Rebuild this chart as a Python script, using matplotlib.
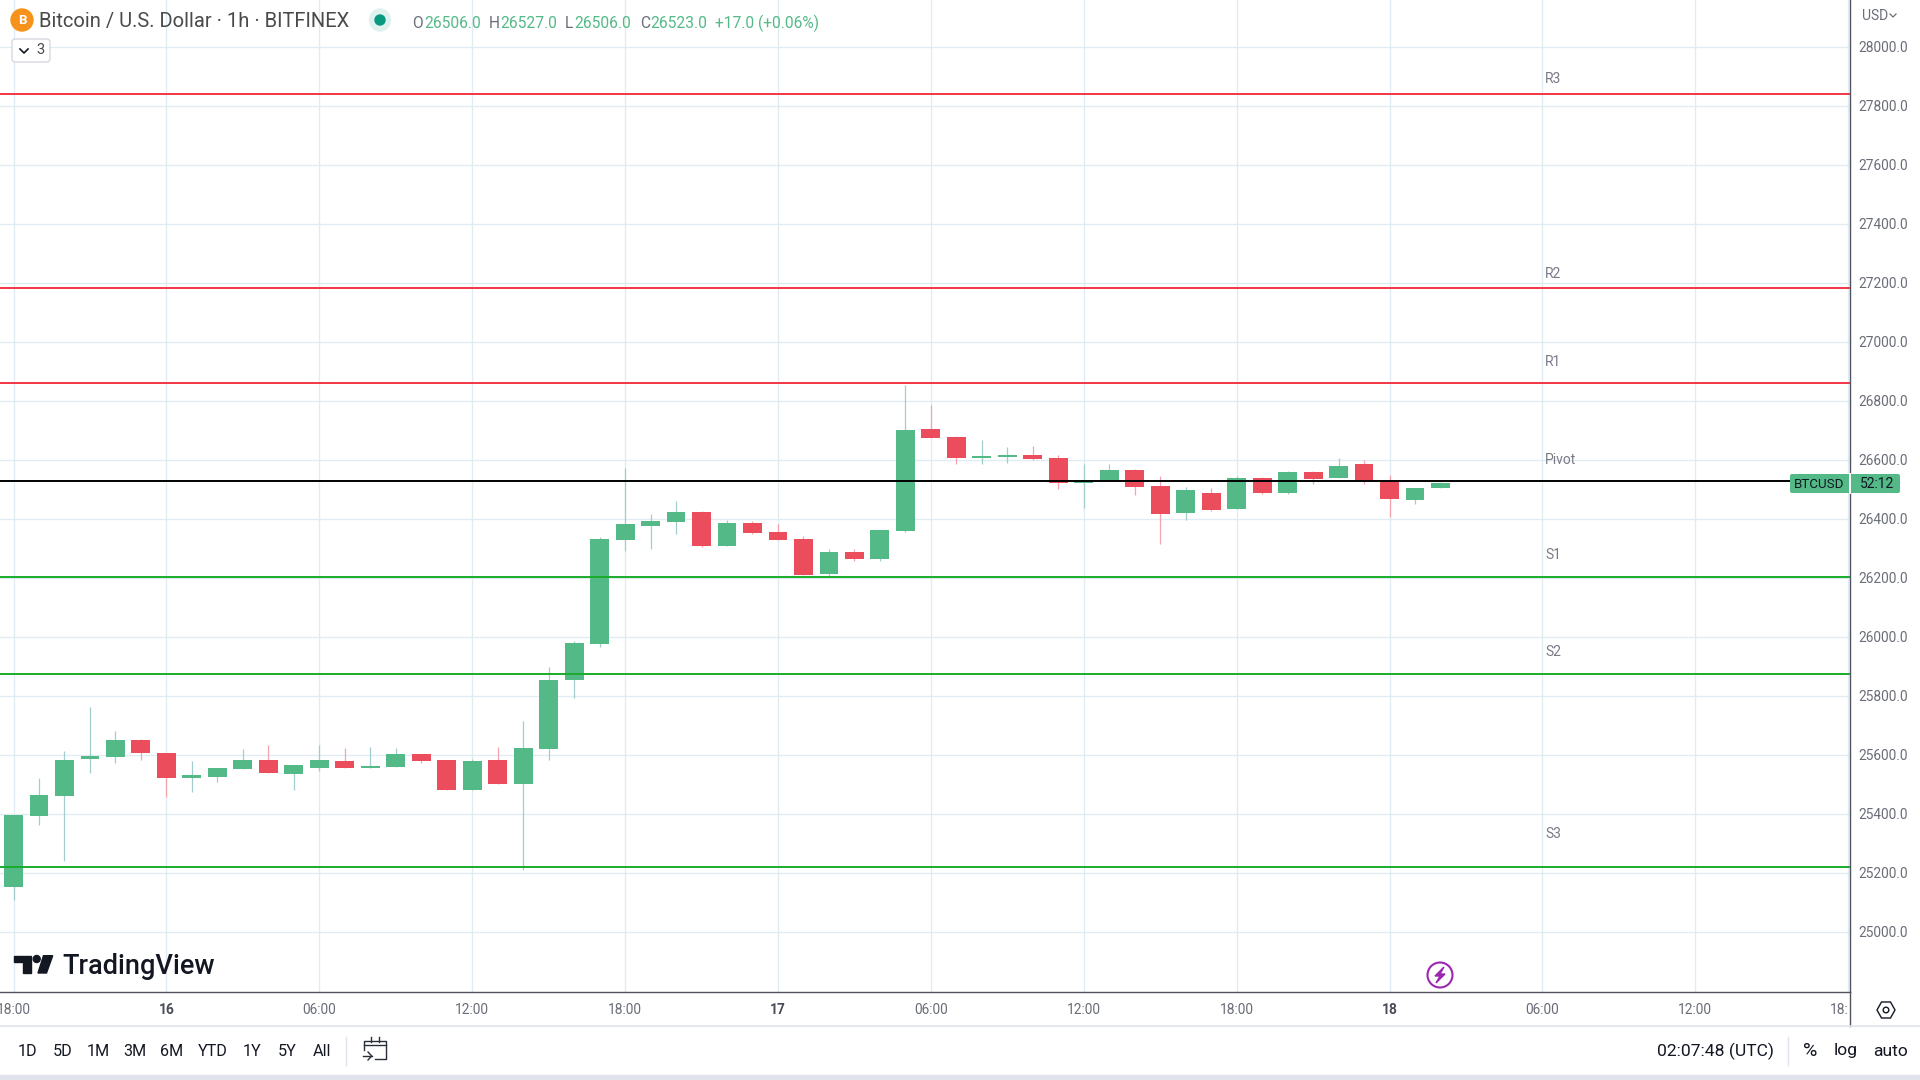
import matplotlib
matplotlib.use('Agg')
import matplotlib.pyplot as plt
import numpy as np
from matplotlib.patches import Circle, Ellipse, FancyBboxPatch, Polygon, Rectangle
from matplotlib.transforms import ScaledTranslation

plt.rcParams['font.family'] = 'Roboto'

# candles (1h, starting 15th 18:00)
opens = [25154, 25394, 25462, 25588, 25594, 25652, 25608, 25523, 25527, 25554,
         25584, 25537, 25557, 25581, 25557, 25560, 25604, 25584, 25482, 25584,
         25503, 25621, 25855, 25977, 26330, 26377, 26391, 26425, 26310, 26387,
         26357, 26333, 26214, 26289, 26265, 26360, 26706, 26679, 26608, 26611,
         26618, 26608, 26523, 26533, 26567, 26513, 26421, 26489, 26435, 26540,
         26489, 26560, 26540, 26587, 26526, 26465, 26506]
highs = [25398, 25523, 25615, 25764, 25682, 25655, 25608, 25581, 25557, 25621,
         25635, 25567, 25635, 25625, 25628, 25625, 25604, 25584, 25587, 25628,
         25716, 25899, 25987, 26340, 26575, 26418, 26462, 26428, 26398, 26394,
         26384, 26343, 26299, 26299, 26364, 26855, 26787, 26682, 26669, 26645,
         26648, 26618, 26587, 26587, 26570, 26547, 26510, 26506, 26547, 26543,
         26564, 26564, 26608, 26601, 26550, 26506, 26527]
lows = [25110, 25364, 25242, 25540, 25574, 25584, 25459, 25476, 25510, 25554,
        25540, 25482, 25547, 25557, 25557, 25560, 25574, 25482, 25482, 25503,
        25211, 25584, 25794, 25967, 26292, 26299, 26350, 26306, 26310, 26350,
        26330, 26211, 26205, 26259, 26259, 26357, 26676, 26587, 26587, 26591,
        26601, 26503, 26438, 26533, 26482, 26316, 26398, 26428, 26435, 26486,
        26486, 26520, 26540, 26520, 26408, 26452, 26506]
closes = [25398, 25465, 25584, 25598, 25652, 25608, 25523, 25533, 25557, 25584,
          25540, 25567, 25584, 25557, 25564, 25604, 25581, 25482, 25581, 25503,
          25625, 25855, 25981, 26333, 26384, 26394, 26425, 26310, 26387, 26354,
          26330, 26211, 26289, 26265, 26364, 26703, 26676, 26608, 26615, 26618,
          26604, 26523, 26530, 26567, 26510, 26418, 26499, 26432, 26540, 26489,
          26560, 26537, 26581, 26533, 26469, 26506, 26523]

# pivot levels
level_names = ['R3', 'R2', 'R1', 'Pivot', 'S1', 'S2', 'S3']
level_prices = [27842, 27185, 26862, 26531, 26205, 25877, 25221]
level_label_prices = [27891, 27233, 26932, 26600, 26279, 25949, 25332]
level_colors = ['#f23645', '#f23645', '#f23645', '#000000', '#1aac2c', '#1aac2c', '#1aac2c']

price_ticks = np.arange(25000, 28001, 200)
time_ticks = np.arange(0, 73, 6)
time_labels = ['18:00', '16', '06:00', '12:00', '18:00', '17', '06:00', '12:00',
               '18:00', '18', '06:00', '12:00', '18:']

GREEN = '#53b987'
RED = '#eb4d5c'
GREY = '#6a6d78'
DARK = '#131722'
LINE = '#50535e'

W, H = 1920, 1080
fig = plt.figure(figsize=(W / 100, H / 100), dpi=100, facecolor='white')

# main chart, 1850 x 992 px
ax = fig.add_axes([0, 1 - 992.3 / H, 1850 / W, 992.3 / H])
ax.set_xlim(-0.53, 72.07)
ax.set_ylim(24796.6, 28160.3)

x = np.arange(len(opens))
o = np.array(opens)
c = np.array(closes)
up = c >= o

ax.vlines(x[up], np.array(lows)[up], np.array(highs)[up], color='#a3cccc', lw=0.9, zorder=2)
ax.vlines(x[~up], np.array(lows)[~up], np.array(highs)[~up], color='#f5a3ad', lw=0.9, zorder=2)
ax.bar(x[up], (c - o)[up], bottom=o[up], width=0.74, color=GREEN, zorder=3)
ax.bar(x[~up], (o - c)[~up], bottom=c[~up], width=0.74, color=RED, zorder=3)

for name, price, label_price, col in zip(level_names, level_prices, level_label_prices, level_colors):
    ax.axhline(price, color=col, lw=1.4, zorder=4)
    ax.text(60.1, label_price, name, color='#787b86', fontsize=10, va='center', ha='left')

ax.set_yticks(price_ticks)
ax.set_yticklabels(['%.1f' % p for p in price_ticks])
ax.set_xticks(time_ticks)
ax.set_xticklabels(time_labels)
ax.yaxis.tick_right()
ax.tick_params(axis='y', length=0, pad=6.2, labelsize=9.9, labelcolor=GREY)
ax.tick_params(axis='x', length=0, pad=8, labelsize=9.9, labelcolor=GREY)
for lab in ax.get_xticklabels():
    if lab.get_text() in ('16', '17', '18'):
        lab.set_fontweight('bold')
        lab.set_color('#4a4d58')
ax.get_xticklabels()[-1].set_ha('right')
# price labels sit a pixel higher than centred
nudge = ScaledTranslation(0, 1 / 100, fig.dpi_scale_trans)
for lab in ax.get_yticklabels():
    lab.set_transform(lab.get_transform() + nudge)
ax.grid(True, color='#e1ecf2', lw=1.0, zorder=0)
ax.set_axisbelow(True)
for side in ('top', 'left'):
    ax.spines[side].set_visible(False)
for side in ('right', 'bottom'):
    ax.spines[side].set_color(LINE)
    ax.spines[side].set_linewidth(1.0)

# everything around the chart is placed in screen pixels
ui = fig.add_axes([0, 0, 1, 1])
ui.set_xlim(0, W)
ui.set_ylim(H, 0)
ui.axis('off')
ui.patch.set_alpha(0)

# header
ui.add_patch(Circle((22, 20), 11, color='#f7931a'))
ui.text(22, 20.5, 'B', color='white', fontsize=9.5, fontweight='bold', ha='center', va='center')
ui.text(39, 21, 'Bitcoin / U.S. Dollar · 1h · BITFINEX', color='#4a4a4a', fontsize=14.5, va='center')
ui.add_patch(Ellipse((380, 20), 21, 22, color='#dff2ee'))
ui.add_patch(Ellipse((380, 20), 10, 10, color='#089981'))
header = [(412, 'O', GREY), (424, '26506.0', GREEN), (488.5, 'H', GREY), (500, '26527.0', GREEN),
          (565, 'L', GREY), (574, '26506.0', GREEN), (640, 'C', GREY), (650, '26523.0', GREEN),
          (715, '+17.0 (+0.06%)', GREEN)]
for px, txt, col in header:
    ui.text(px, 23, txt, color=col, fontsize=11.2, va='center')
ui.add_patch(FancyBboxPatch((13, 40), 36, 21, boxstyle='round,pad=1,rounding_size=3', fc='white', ec='#d1d4dc', lw=0.9))
ui.plot([20, 24, 28], [49, 53, 49], color=DARK, lw=1.2)
ui.text(36, 50.5, '3', color='#4a4a4a', fontsize=10.5, ha='left', va='center')

# USD and last price tag
ui.text(1875, 16, 'USD', color=GREY, fontsize=10, ha='center', va='center')
ui.plot([1890, 1893, 1896], [14, 17, 14], color=GREY, lw=0.9)
ui.add_patch(FancyBboxPatch((1792, 476), 106, 15, boxstyle='round,pad=2,rounding_size=2', fc=GREEN, ec='none'))
ui.plot([1850, 1850], [474, 493], color='white', lw=1.4)
ui.text(1819, 484, 'BTCUSD', color=DARK, fontsize=9.6, ha='center', va='center')
ui.text(1877, 484, '52:12', color=DARK, fontsize=10, ha='center', va='center')

# logo
ui.add_patch(Polygon([(14.3, 955.7), (31, 955.7), (31, 973), (23, 973), (23, 961.7), (14.3, 961.7)], color=DARK))
ui.add_patch(Circle((36.7, 959), 3.5, color=DARK))
ui.add_patch(Polygon([(43.5, 955.7), (52.7, 955.7), (46.5, 973), (38, 973)], color=DARK))
ui.text(62, 966, 'TradingView', color=DARK, fontsize=19.5, fontweight='medium', va='center')

# bolt mark
ui.add_patch(Circle((1440, 975), 12.5, fc='white', ec='#9c27b0', lw=1.5, zorder=5))
ui.add_patch(Polygon([(1444, 967), (1435, 976), (1440, 976), (1436, 983), (1445, 974), (1440, 974)],
                     color='#9c27b0', zorder=6))

# bottom bar
ui.plot([1850, 1850], [992, 1026], color=LINE, lw=1.0)
ui.plot([0, W], [1026, 1026], color='#e0e3eb', lw=1.2)
ui.add_patch(Rectangle((0, 1075), W, 5, color='#e0e3eb'))
hexa = np.array([(-9, 0), (-4.5, -8), (4.5, -8), (9, 0), (4.5, 8), (-4.5, 8)]) + (1886, 1010)
ui.add_patch(Polygon(hexa, fc='white', ec=DARK, lw=1.0))
ui.add_patch(Circle((1886, 1010), 2.8, fc='white', ec=DARK, lw=1.0))

buttons = ['1D', '5D', '1M', '3M', '6M', 'YTD', '1Y', '5Y', 'All']
button_x = [27.5, 63, 98.5, 135, 172, 213, 252.5, 287, 321.5]
for px, txt in zip(button_x, buttons):
    ui.text(px, 1051, txt, color=DARK, fontsize=11.6, ha='center', va='center')
ui.plot([345.5, 345.5], [1037, 1065], color='#e0e3eb', lw=1.0)

# calendar icon
ui.plot([363.5, 363.5, 385.7, 385.7, 375], [1050, 1041, 1041, 1059, 1059], color='#2a2e39', lw=1.0)
ui.plot([363.5, 385.7], [1044.5, 1044.5], color='#2a2e39', lw=1.0)
ui.plot([370.7, 370.7], [1037, 1042], color='#2a2e39', lw=1.0)
ui.plot([379, 379], [1037, 1042], color='#2a2e39', lw=1.0)
ui.plot([362.7, 371.7], [1056, 1056], color='#2a2e39', lw=1.0)
ui.plot([368, 371.7, 368], [1052, 1056, 1060], color='#2a2e39', lw=1.0)

ui.text(1657, 1051, '02:07:48 (UTC)', color=DARK, fontsize=12.6, va='center')
ui.plot([1788, 1788], [1037, 1065], color='#e0e3eb', lw=1.0)
ui.text(1810, 1051, '%', color=DARK, fontsize=14, ha='center', va='center')
ui.text(1846, 1051, 'log', color=DARK, fontsize=12.6, ha='center', va='center')
ui.text(1890, 1051, 'auto', color=DARK, fontsize=12.6, ha='center', va='center')

fig.savefig('out.png', dpi=100)
